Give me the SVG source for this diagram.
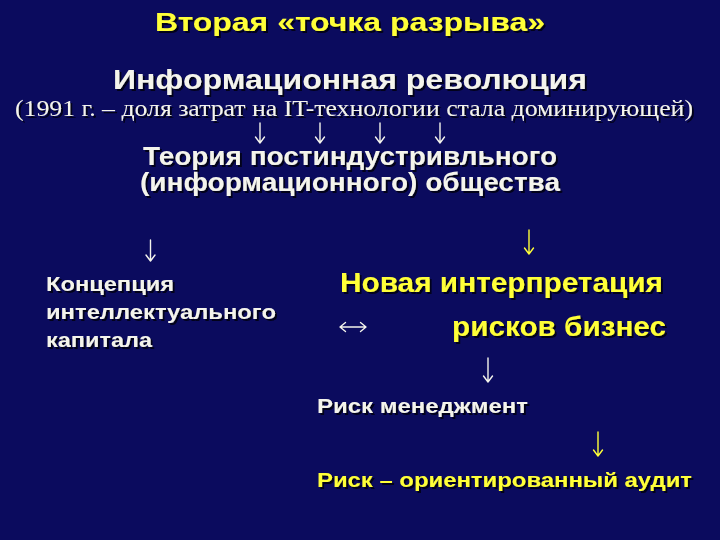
<svg xmlns="http://www.w3.org/2000/svg" width="720" height="540" viewBox="0 0 720 540">
<defs>
<filter id="sh" x="-5%" y="-20%" width="110%" height="150%">
<feDropShadow dx="2" dy="2" stdDeviation="0.6" flood-color="#000010" flood-opacity="0.85"/>
</filter>
<style>
.s{font-family:"Liberation Sans",Arial,sans-serif;font-weight:bold;filter:url(#sh)}
.r{font-family:"Liberation Serif","Times New Roman",serif;filter:url(#sh)}
.y{fill:#ffff38}
.w{fill:#f4f4ec}
.a{fill:none;stroke-width:1.4;stroke-linecap:round;stroke-linejoin:round}
.aw{stroke:#f4f4ec}
.ay{stroke:#ffff38}
</style>
</defs>
<rect width="720" height="540" fill="#0b0b5e"/>
<g id="title"><text class="s y" x="155" y="31" font-size="26" textLength="390" lengthAdjust="spacingAndGlyphs">Вторая «точка разрыва»</text></g>
<g id="revolution">
<text class="s w" x="113" y="89" font-size="27" textLength="474" lengthAdjust="spacingAndGlyphs">Информационная революция</text>
<text class="r w" x="15" y="116" font-size="24" textLength="678" lengthAdjust="spacingAndGlyphs">(1991 г. – доля затрат на IT-технологии стала доминирующей)</text>
</g>
<g id="theory">
<text class="s w" x="143" y="165" font-size="25" textLength="414" lengthAdjust="spacingAndGlyphs">Теория постиндустривльного</text>
<text class="s w" x="140" y="191" font-size="25" textLength="420" lengthAdjust="spacingAndGlyphs">(информационного) общества</text>
</g>
<g id="capital">
<text class="s w" x="46" y="291" font-size="20" textLength="128" lengthAdjust="spacingAndGlyphs">Концепция</text>
<text class="s w" x="46" y="319" font-size="20" textLength="230" lengthAdjust="spacingAndGlyphs">интеллектуального</text>
<text class="s w" x="46" y="347" font-size="20" textLength="106" lengthAdjust="spacingAndGlyphs">капитала</text>
</g>
<g id="risks">
<text class="s y" x="340" y="292" font-size="27" textLength="323" lengthAdjust="spacingAndGlyphs">Новая интерпретация</text>
<text class="s y" x="452" y="336" font-size="27" textLength="214" lengthAdjust="spacingAndGlyphs">рисков бизнес</text>
</g>
<g id="riskmgmt"><text class="s w" x="317" y="413" font-size="21" textLength="211" lengthAdjust="spacingAndGlyphs">Риск менеджмент</text></g>
<g id="audit"><text class="s y" x="317" y="487" font-size="21" textLength="375" lengthAdjust="spacingAndGlyphs">Риск – ориентированный аудит</text></g>
<g id="connectors">
<path class="a aw" d="M260 123V143M255.5 137L260 143L264.5 137"/>
<path class="a aw" d="M320 123V143M315.5 137L320 143L324.5 137"/>
<path class="a aw" d="M380 123V143M375.5 137L380 143L384.5 137"/>
<path class="a aw" d="M440 123V143M435.5 137L440 143L444.5 137"/>
<path class="a aw" d="M150.5 240V261M146 255L150.5 261L155 255"/>
<path class="a ay" d="M529 230V254M524.5 248L529 254L533.5 248"/>
<path class="a aw" d="M340 327H366M345.5 322.5L340 327L345.5 331.5M360.5 322.5L366 327L360.5 331.5"/>
<path class="a aw" d="M488 358V382M483.5 376L488 382L492.5 376"/>
<path class="a ay" d="M598 432V456M593.5 450L598 456L602.5 450"/>
</g>
</svg>
